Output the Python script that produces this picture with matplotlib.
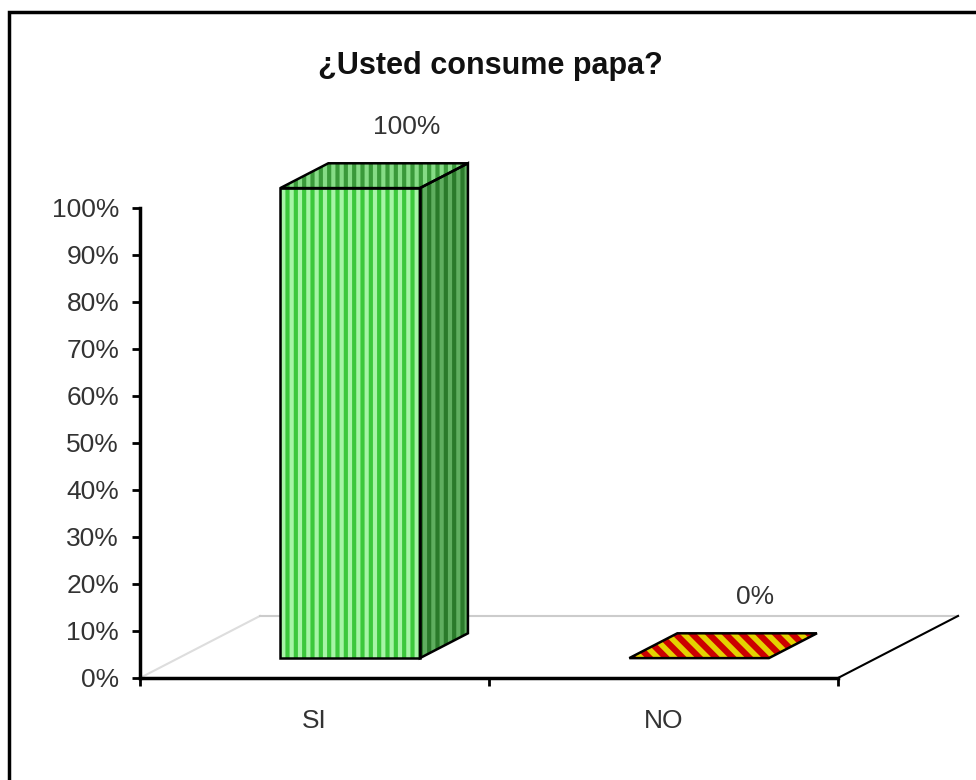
import matplotlib
matplotlib.use('Agg')
import matplotlib.pyplot as plt
from matplotlib.patches import Polygon, Rectangle

plt.rcParams['font.family'] = ['Liberation Sans', 'DejaVu Sans']

# Data
categories = ['SI', 'NO']
values = [100, 0]
value_labels = ['100%', '0%']
yticks = list(range(0, 101, 10))
ytick_labels = ['%d%%' % v for v in yticks]
title = '¿Usted consume papa?'

# 3D look (data units)
floor_dx, floor_dy = 0.344, 13.2
bar_width = 0.40
depth0, depth1 = 0.32, 0.72

fig = plt.figure(figsize=(9.76, 7.8), dpi=100)
ax = fig.add_axes([0.1434, 0.1308, 0.7152, 0.6026])
ax.set_xlim(0, len(categories))
ax.set_ylim(0, 100)

for s in ['top', 'right']:
    ax.spines[s].set_visible(False)
ax.spines['left'].set_linewidth(2.5)
ax.spines['bottom'].set_linewidth(2.5)

ax.set_yticks(yticks)
ax.set_yticklabels(ytick_labels, fontsize=19, color='#333333')
ax.tick_params(axis='y', length=6, width=2, pad=9)
ax.set_xticks(range(len(categories) + 1))
ax.set_xticklabels([])
ax.tick_params(axis='x', which='major', length=6, width=2)
ax.set_xticks([i + 0.5 for i in range(len(categories))], minor=True)
ax.set_xticklabels(categories, minor=True, fontsize=19, color='#333333')
ax.tick_params(axis='x', which='minor', length=0, pad=22)

# floor
n = len(categories)
ax.plot([0, floor_dx], [0, floor_dy], color='#dddddd', lw=1.5, clip_on=False, zorder=1)
ax.plot([floor_dx, n + floor_dx], [floor_dy, floor_dy], color='#cccccc', lw=1.5, clip_on=False, zorder=1)
ax.plot([n, n + floor_dx], [0, floor_dy], color='black', lw=1.5, clip_on=False, zorder=1)


def poly(pts, **kw):
    ax.add_patch(Polygon(pts, closed=True, clip_on=False, **kw))


def bar3d(i, v, front, front_hatch, side, side_hatch, top, top_hatch, hatch):
    x0 = i + 0.5 - bar_width / 2 + depth0 * floor_dx - 0.008
    x1 = x0 + bar_width
    y0 = depth0 * floor_dy
    ddx = (depth1 - depth0) * floor_dx
    ddy = (depth1 - depth0) * floor_dy
    y1 = y0 + v
    front_pts = [(x0, y0), (x1, y0), (x1, y1), (x0, y1)]
    side_pts = [(x1, y0), (x1 + ddx, y0 + ddy), (x1 + ddx, y1 + ddy), (x1, y1)]
    top_pts = [(x0, y1), (x1, y1), (x1 + ddx, y1 + ddy), (x0 + ddx, y1 + ddy)]
    if v > 0:
        for pts, fc, hc in [(front_pts, front, front_hatch), (side_pts, side, side_hatch)]:
            poly(pts, fc=fc, ec=hc, hatch=hatch, lw=0, zorder=3)
            poly(pts, fill=False, ec='black', lw=1.8, zorder=4)
    poly(top_pts, fc=top, ec=top_hatch, hatch=hatch, lw=0, zorder=3)
    poly(top_pts, fill=False, ec='black', lw=1.8, zorder=4)
    return x0 + ddx + bar_width / 2, y1 + ddy


with plt.rc_context({'hatch.linewidth': 3}):
    lx, ly = bar3d(0, values[0], '#a6f5a6', '#3cc83c', '#5fae5f', '#2a7a2a',
                   '#86dc86', '#3a9a3a', '||')
ax.annotate(value_labels[0], (lx, ly), xytext=(6, 26), textcoords='offset points',
            ha='center', va='center', fontsize=19, color='#333333', annotation_clip=False)

with plt.rc_context({'hatch.linewidth': 4}):
    lx, ly = bar3d(1, values[1], '#cc0000', '#e0d000', '#990000', '#e0d000',
                   '#cc0000', '#e4d200', '\\\\')
ax.annotate(value_labels[1], (lx, ly), xytext=(6, 26), textcoords='offset points',
            ha='center', va='center', fontsize=19, color='#333333', annotation_clip=False)

fig.text(0.502, 0.915, title, ha='center', va='center', fontsize=22, fontweight='bold', color='#111111')

# outer frame
fig.patches.append(Rectangle((9 / 976, -0.1), 1.2, 1.1 - 12 / 780, transform=fig.transFigure,
                             fill=False, ec='black', lw=2.5))

fig.savefig('out.png', dpi=100)
